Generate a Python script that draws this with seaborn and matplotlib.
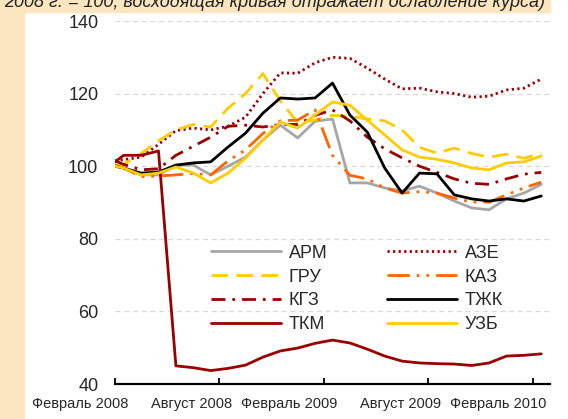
import matplotlib
matplotlib.use('Agg')
import matplotlib.pyplot as plt
import seaborn as sns
import pandas as pd
from matplotlib.patches import Rectangle

# месяцы: индекс от февраля 2008 (первая точка - база)
months = [-0.5, 0, 1, 2, 3, 4, 5, 6, 7, 8, 9, 10, 11, 12,
          13, 14, 15, 16, 17, 18, 19, 20, 21, 22, 23, 24]

arm = [100, 99.5, 97.6, 97.6, 100.3, 100.3, 97.6, 100, 102.5, 107.2, 111.3, 107.8, 112.4,
       113, 95.4, 95.4, 94, 93.2, 94.5, 92.6, 90.4, 88.5, 88, 91, 92.6, 95]
aze = [101.5, 101.8, 102.5, 106, 109.8, 110.5, 110, 111, 113.5, 120, 125.7, 125.6, 128.5,
       130, 129.7, 127, 124, 121.3, 121.5, 120.5, 120, 119, 119.3, 121, 121.5, 124]
gru = [100.3, 100.5, 103.5, 107, 110, 111.5, 110.8, 116, 120, 125.5, 118, 112, 112.7,
       114, 113.8, 113, 112.5, 110, 105.2, 103.6, 105, 103.5, 102.5, 103.3, 102.2, 103.6]
kaz = [100.3, 99.5, 97.1, 97.3, 97.6, 98, 97.6, 101.5, 104.5, 109, 112.5, 112.7, 115.5,
       103, 97.5, 96.5, 94, 92.6, 93, 92.6, 91.2, 90.1, 90.1, 92.1, 94, 95.6]
kgz = [101.5, 100.5, 99, 99.3, 103, 105.5, 108, 111, 111.3, 110.8, 111.5, 111.5, 114,
       115.5, 112.5, 108, 104.8, 102.3, 100, 98.3, 96.5, 95.3, 95, 96.5, 97.8, 98.3]
tjk = [100, 99.5, 98.1, 98.4, 100.3, 100.9, 101.2, 105.3, 109.1, 114.6, 118.8, 118.5, 118.8,
       122.9, 114.1, 109.4, 99.5, 92.6, 98.1, 97.9, 92.1, 91, 90.4, 91, 90.4, 91.8]
tkm = [101.2, 103, 103, 104.2, 45, 44.5, 43.7, 44.3, 45.2, 47.4, 49.1, 49.9, 51.2,
       52.1, 51.3, 49.6, 47.7, 46.3, 45.8, 45.6, 45.5, 45.1, 45.8, 47.7, 47.9, 48.3]
uzb = [100, 99.5, 97.6, 98.1, 99.8, 98.1, 95.4, 98.1, 102.2, 107.2, 112.2, 110.5, 114.1,
       117.7, 116.8, 112.7, 108.6, 104.5, 102.5, 101.9, 100.9, 99.5, 99, 100.9, 101.2, 102.8]

tick_months = [-0.5, 5.5, 11.5, 17.5, 23.5]
label_months = [-2.5, 3.9, 9.5, 15.9, 21.5]
tick_labels = ['Февраль 2008', 'Август 2008', 'Февраль 2009', 'Август 2009', 'Февраль 2010']

series = {'АРМ': arm, 'АЗЕ': aze, 'ГРУ': gru, 'КАЗ': kaz,
          'КГЗ': kgz, 'ТЖК': tjk, 'ТКМ': tkm, 'УЗБ': uzb}

styles = {
    'АРМ': dict(color='#A6A6A6', linestyle='-'),
    'АЗЕ': dict(color='#990000', linestyle=(0, (0.8, 1.2))),
    'ГРУ': dict(color='#FFCC00', linestyle=(0, (6, 3))),
    'КАЗ': dict(color='#FF6600', linestyle=(0, (8, 2.5, 1, 2.5, 1, 2.5))),
    'КГЗ': dict(color='#990000', linestyle=(0, (5, 2.5, 1, 2.5))),
    'ТЖК': dict(color='#000000', linestyle='-'),
    'ТКМ': dict(color='#990000', linestyle='-'),
    'УЗБ': dict(color='#FFCC00', linestyle='-'),
}

df = pd.DataFrame({'month': months, **series})

sns.set_style('white')
plt.rcParams['font.family'] = ['Liberation Sans', 'DejaVu Sans']

fig = plt.figure(figsize=(5.68, 4.19), dpi=100)
fig.patch.set_facecolor('white')
# бежевая рамка слева и сверху
fig.patches.append(Rectangle((0, 0), 24 / 568, 1, transform=fig.transFigure,
                             color='#FCE6C0', zorder=0))
fig.patches.append(Rectangle((0, 1 - 12 / 419), 550 / 568, 12 / 419, transform=fig.transFigure,
                             color='#FCE6C0', zorder=0))
# заголовок обрезан сверху, как в оригинале
fig.text(4 / 568, 1 - 7 / 419, '2008 г. = 100; восходящая кривая отражает ослабление курса)',
         fontsize=13, style='italic', va='baseline', ha='left', color='#222222')

ax = fig.add_axes([115 / 568, 1 - 384 / 419, 435 / 568, 363 / 419])

for name in series:
    sns.lineplot(data=df, x='month', y=name, ax=ax, label=name, lw=2,
                 dash_capstyle='butt', **styles[name])

ax.set_ylim(40, 140)
ax.set_xlim(-0.5, 24.5)
ax.set_yticks([40, 60, 80, 100, 120, 140])
ax.yaxis.grid(True, color='#D9D9D9', linestyle=(0, (4, 3)), lw=0.9)
ax.set_axisbelow(True)
ax.set_xlabel('')
ax.set_ylabel('')
for s in ['left', 'right', 'top']:
    ax.spines[s].set_visible(False)
ax.spines['bottom'].set_color('black')
ax.spines['bottom'].set_linewidth(1.6)
ax.tick_params(axis='y', length=0, labelsize=13, pad=12)
ax.set_xticks(tick_months)
ax.set_xticklabels([])
ax.tick_params(axis='x', bottom=True, direction='in', length=4, width=1.3, color='black')

for m, lab in zip(label_months, tick_labels):
    ax.text(m, -0.055, lab, transform=ax.get_xaxis_transform(), ha='center', va='center',
            fontsize=10.5, family=['Liberation Sans Narrow', 'Liberation Sans'], clip_on=False)

handles, labels = ax.get_legend_handles_labels()
order = ['АРМ', 'ГРУ', 'КГЗ', 'ТКМ', 'АЗЕ', 'КАЗ', 'ТЖК', 'УЗБ']
hmap = dict(zip(labels, handles))
ax.legend([hmap[o] for o in order], order, ncol=2, frameon=False, fontsize=13,
          loc='lower left', bbox_to_anchor=(0.2, 0.115), handlelength=3.9,
          handletextpad=0.4, columnspacing=3.3, labelspacing=0.38, borderpad=0)

fig.savefig('out.png', dpi=100, facecolor='white')
